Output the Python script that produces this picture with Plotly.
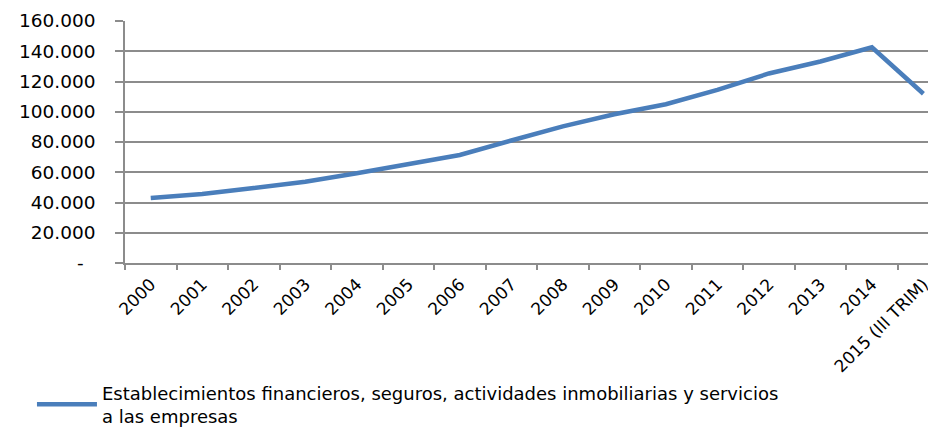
import plotly.graph_objects as go

categories = ["2000", "2001", "2002", "2003", "2004", "2005", "2006", "2007",
              "2008", "2009", "2010", "2011", "2012", "2013", "2014", "2015 (III TRIM)"]
values = [43000, 45600, 49600, 53700, 59300, 65600, 71400, 81000,
          90300, 98300, 105000, 114500, 125300, 133200, 142600, 111900]
series_name = "Establecimientos financieros, seguros, actividades inmobiliarias y servicios<br>a las empresas"
y_tickvals = [0, 20000, 40000, 60000, 80000, 100000, 120000, 140000, 160000]
y_ticktext = ["-\u00a0\u00a0", "20.000", "40.000", "60.000", "80.000",
              "100.000", "120.000", "140.000", "160.000"]

FONT = "DejaVu Sans"
GRID = "#8c8c8c"

fig = go.Figure()
fig.add_trace(go.Scatter(
    x=categories, y=values, mode="lines", name=series_name,
    line=dict(color="#4a7ebb", width=4.5),
))

fig.update_layout(
    width=936, height=445,
    margin=dict(l=117, r=0, t=13, b=190),
    paper_bgcolor="white", plot_bgcolor="white",
    font=dict(family=FONT, color="#000000"),
    showlegend=True,
    legend=dict(
        x=-0.1136, y=-0.708, xanchor="left", yanchor="bottom",
        font=dict(family=FONT, size=18, color="#000000"),
        bgcolor="rgba(0,0,0,0)", borderwidth=0, itemwidth=60,
    ),
    xaxis=dict(
        type="category", range=[-0.5, 15.40], automargin=False,
        showgrid=False, showline=True, linecolor=GRID, linewidth=1.5,
        ticks="outside", ticklen=5, tickcolor=GRID, tickwidth=1.5,
        tickson="boundaries", tickangle=-45, ticklabelstandoff=3,
        tickfont=dict(family=FONT, size=17, color="#000000"),
    ),
    yaxis=dict(
        range=[0, 160000], tickmode="array", tickvals=y_tickvals, ticktext=y_ticktext,
        automargin=False,
        showgrid=True, gridcolor=GRID, gridwidth=1.5,
        showline=True, linecolor=GRID, linewidth=1.5,
        ticks="outside", ticklen=8, tickcolor=GRID, tickwidth=1.5,
        ticklabelstandoff=16,
        tickfont=dict(family=FONT, size=18.5, color="#000000"),
        zeroline=False,
    ),
)

fig.write_html("out.html")
